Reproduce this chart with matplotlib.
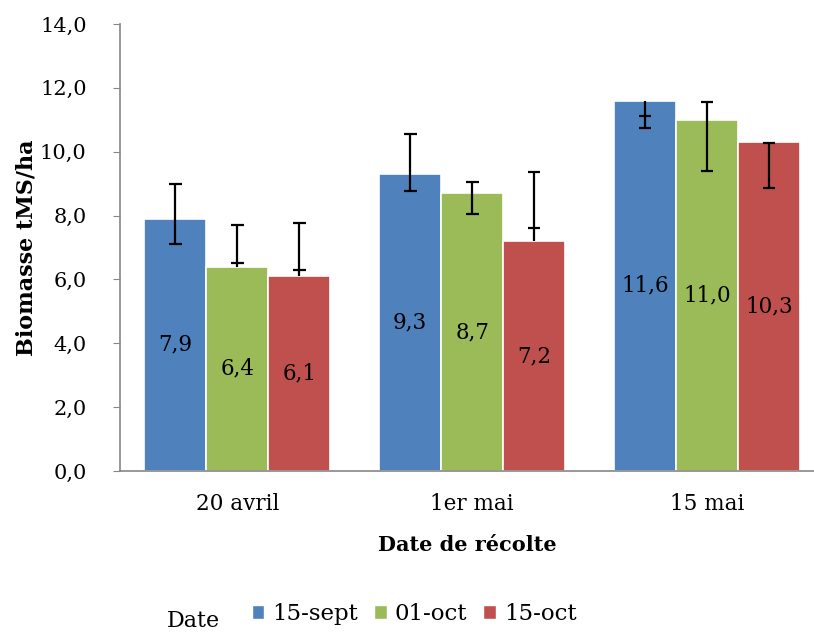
import numpy as np
import matplotlib
matplotlib.use('Agg')
import matplotlib.pyplot as plt
from matplotlib.patches import Patch

plt.rcParams['font.family'] = 'DejaVu Serif'

# Data
groups = ['20 avril', '1er mai', '15 mai']
series = ['15-sept', '01-oct', '15-oct']
colors = ['#4F81BD', '#9BBB59', '#C0504D']
values = np.array([[7.9, 9.3, 11.6],
                   [6.4, 8.7, 11.0],
                   [6.1, 7.2, 10.3]])
# error bar caps (Excel custom bars: both ends drawn from the bar top)
cap_hi = np.array([[9.0, 10.55, 11.13],
                   [7.70, 9.06, 11.56],
                   [7.78, 9.35, 10.26]])
cap_lo = np.array([[7.1, 8.78, 10.73],
                   [6.51, 8.05, 9.40],
                   [6.30, 7.60, 8.86]])

fig = plt.figure(figsize=(8.14, 6.33), dpi=100)
ax = fig.add_axes([120/814, 1-471/633, 1-120/814, (471-24)/633])

x = np.arange(len(groups))
width = 0.264
cap_w = 0.027
for i, name in enumerate(series):
    xs = x + (i - 1) * width
    ax.bar(xs, values[i], width, color=colors[i], edgecolor='white',
           linewidth=1.2, label=name, zorder=2)
    for xi, v, hi, lo in zip(xs, values[i], cap_hi[i], cap_lo[i]):
        ax.vlines(xi, min(v, hi, lo), max(v, hi, lo), color='black', lw=1.6, zorder=3)
        ax.hlines([hi, lo], xi - cap_w, xi + cap_w, color='black', lw=1.6, zorder=3)
        ax.text(xi, v / 2, f'{v:.1f}'.replace('.', ','), ha='center', va='center',
                fontsize=15.5, zorder=4)

ax.set_xlim(-0.5, 2.456)
ax.set_ylim(0, 14)
ax.set_yticks(np.arange(0, 15, 2))
ax.set_yticklabels([f'{t:.1f}'.replace('.', ',') for t in np.arange(0, 15, 2)], fontsize=15)
ax.set_xticks(x)
ax.set_xticklabels(groups, fontsize=15.5)
ax.tick_params(axis='x', length=0, pad=16)
ax.tick_params(axis='y', length=5, color='#868686', pad=19)
for s in ['top', 'right']:
    ax.spines[s].set_visible(False)
for s in ['left', 'bottom']:
    ax.spines[s].set_color('#868686')
    ax.spines[s].set_linewidth(1.2)

ax.set_ylabel('Biomasse tMS/ha', fontsize=16, fontweight='bold', labelpad=2)
ax.set_xlabel('Date de récolte', fontsize=15, fontweight='bold', labelpad=14)

handles = [Patch(facecolor=c, edgecolor='white', label=s) for c, s in zip(colors, series)]
fig.legend(handles=handles, loc='center', bbox_to_anchor=(414/814, 1-614/633), ncol=3,
           frameon=False, fontsize=16.5, handlelength=0.55, handleheight=0.55,
           handletextpad=0.35, columnspacing=0.7)
fig.text(193/814, 1-627/633, 'Date', fontsize=16, ha='center', va='baseline')

fig.savefig('out.png', dpi=100)
